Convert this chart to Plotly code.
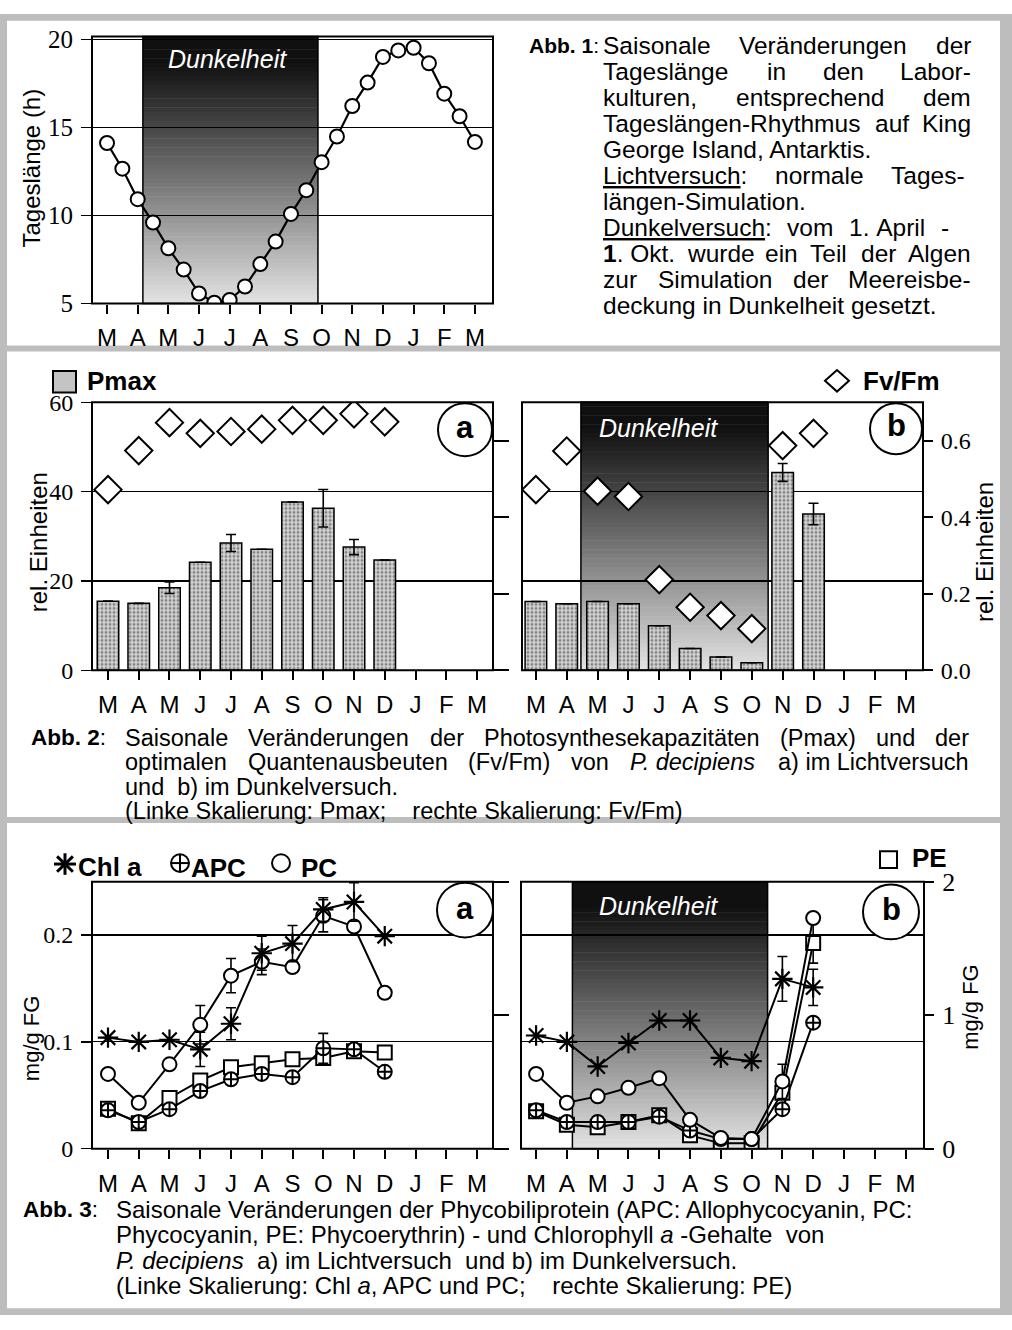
import re
import plotly.graph_objects as go

W, H = 1012, 1330
SANS = "Liberation Sans, Arial, sans-serif"
SERIF = "Liberation Serif, Times New Roman, serif"

# ---------------- data ----------------
months = ["M", "A", "M", "J", "J", "A", "S", "O", "N", "D", "J", "F", "M"]
month_pos = [0, 1, 2, 3, 4, 5, 6, 7, 8, 9, 10, 11, 12]

# Abb. 1 : day length (h), half-month steps
day_x = [0, 0.5, 1, 1.5, 2, 2.5, 3, 3.5, 4, 4.5, 5, 5.5, 6, 6.5, 7, 7.5, 8, 8.5, 9, 9.5, 10, 10.5, 11, 11.5, 12]
day_len = [14.12, 12.66, 10.93, 9.60, 8.14, 6.93, 5.57, 5.05, 5.20, 5.97, 7.24, 8.52, 10.09,
           11.44, 13.03, 14.49, 16.22, 17.55, 19.01, 19.38, 19.53, 18.65, 16.92, 15.64, 14.18]
dark_abb1 = [1.17, 6.88]

# Abb. 2 : Pmax (left) and Fv/Fm (right)
meas_x = [0, 1, 2, 3, 4, 5, 6, 7, 8, 9]
pmax_light = [15.5, 15.0, 18.5, 24.2, 28.5, 27.1, 37.7, 36.3, 27.6, 24.7]
pmax_light_err = [None, None, 1.3, None, 1.9, None, None, 4.2, 1.7, None]
fvfm_light = [0.472, 0.574, 0.647, 0.619, 0.624, 0.630, 0.653, 0.653, 0.670, 0.649]
pmax_dark = [15.4, 14.9, 15.4, 14.9, 10.0, 4.9, 3.0, 1.7, 44.3, 35.0]
pmax_dark_err = [None, None, None, None, None, None, None, None, 2.0, 2.4]
fvfm_dark = [0.472, 0.573, 0.468, 0.454, 0.237, 0.165, 0.143, 0.109, 0.587, 0.619]
dark_abb2 = [1.46, 7.53]

# Abb. 3 : pigments (mg/g FG); Chl a, APC, PC left scale, PE right scale
chl_light = [0.104, 0.100, 0.102, 0.093, 0.117, 0.183, 0.192, 0.224, 0.231, 0.199]
chl_light_err = [None, None, None, 0.016, 0.015, 0.016, 0.017, 0.011, 0.018, None]
apc_light = [0.036, 0.025, 0.037, 0.054, 0.065, 0.070, 0.067, 0.094, 0.093, 0.072]
apc_light_err = [None, None, None, None, None, None, None, 0.014, None, None]
pc_light = [0.070, 0.043, 0.079, 0.116, 0.162, 0.175, 0.170, 0.218, 0.208, 0.146]
pc_light_err = [None, None, None, 0.018, 0.016, 0.012, None, 0.015, None, None]
pe_light = [0.30, 0.19, 0.38, 0.51, 0.61, 0.64, 0.67, 0.68, 0.73, 0.72]

chl_dark = [0.106, 0.100, 0.077, 0.099, 0.120, 0.120, 0.085, 0.082, 0.159, 0.151]
chl_dark_err = [None, None, None, None, None, None, None, None, 0.021, 0.017]
apc_dark = [0.036, 0.025, 0.025, 0.025, 0.030, 0.017, 0.009, 0.009, 0.037, 0.118]
pc_dark = [0.070, 0.043, 0.049, 0.057, 0.066, 0.027, 0.010, 0.009, 0.063, 0.216]
pc_dark_err = [None, None, None, None, None, None, None, None, 0.016, None]
pe_dark = [0.28, 0.18, 0.16, 0.20, 0.25, 0.10, 0.04, 0.04, 0.42, 1.54]
pe_dark_err = [None, None, None, None, None, None, None, None, None, 0.15]
dark_abb3 = [1.18, 7.52]


# ---------------- helpers ----------------
def X(px):
    return px / W


def Y(py):
    return 1 - py / H


AW = {' ': 278, '\u00a0': 278, '!': 278, '(': 333, ')': 333, ',': 278, '-': 333, '.': 278,
      '/': 278, ':': 278, ';': 278,
      'A': 667, 'B': 667, 'C': 722, 'D': 722, 'E': 667, 'F': 611, 'G': 778, 'H': 722, 'I': 278,
      'J': 500, 'K': 667, 'L': 556, 'M': 833, 'N': 722, 'O': 778, 'P': 667, 'Q': 778, 'R': 722,
      'S': 667, 'T': 611, 'U': 722, 'V': 667, 'W': 944, 'X': 667, 'Y': 667, 'Z': 611,
      'a': 556, 'b': 556, 'c': 500, 'd': 556, 'e': 556, 'f': 278, 'g': 556, 'h': 556, 'i': 222,
      'j': 222, 'k': 500, 'l': 222, 'm': 833, 'n': 556, 'o': 556, 'p': 556, 'q': 556, 'r': 333,
      's': 500, 't': 278, 'u': 556, 'v': 500, 'w': 722, 'x': 500, 'y': 500, 'z': 500,
      'ä': 556, 'ö': 556, 'ü': 556}


def text_width(s, size):
    plain = re.sub(r'<[^>]+>', '', s)
    return sum(AW.get(c, 556) for c in plain) * size / 1000.0


annotations = []
shapes = []


def ann(x, y, text, size, anchor='left', color='black', family=SANS, angle=0):
    annotations.append(dict(x=X(x), y=Y(y), xref='paper', yref='paper', text=text,
                            showarrow=False, xanchor=anchor, yanchor='middle', borderpad=0,
                            textangle=angle, font=dict(family=family, size=size, color=color)))


def add_line(x0, y, text, size, right=None):
    if right is None:
        ann(x0, y, text, size)
        return
    words = text.split(' ')
    widths = [text_width(w, size) for w in words]
    gap = (right - x0 - sum(widths)) / (len(words) - 1)
    x = x0
    for w, wd in zip(words, widths):
        ann(x, y, w, size)
        x += wd + gap


def rect_px(x0, y0, x1, y1, fill, line_w=0, line_c='black', layer='above'):
    shapes.append(dict(type='rect', xref='paper', yref='paper', x0=X(x0), x1=X(x1),
                       y0=Y(y1), y1=Y(y0), fillcolor=fill, layer=layer,
                       line=dict(width=line_w, color=line_c)))


def line_px(x0, y0, x1, y1, w=2):
    shapes.append(dict(type='line', xref='paper', yref='paper', x0=X(x0), x1=X(x1),
                       y0=Y(y0), y1=Y(y1), line=dict(width=w, color='black')))


def circle_px(cx, cy, r, fill='white', w=2):
    shapes.append(dict(type='circle', xref='paper', yref='paper', x0=X(cx - r), x1=X(cx + r),
                       y0=Y(cy + r), y1=Y(cy - r), fillcolor=fill, layer='above',
                       line=dict(width=w, color='black')))


def gradient(xref, yref, x0, x1, n=60):
    for i in range(n):
        t0, t1 = i / n, (i + 1) / n
        t = (t0 + t1) / 2
        f = max(0.0, min(1.0, (t - 0.09) / 0.91))
        g = int(16 + 212 * f ** 1.05)
        shapes.append(dict(type='rect', xref=xref, yref=yref + ' domain', x0=x0, x1=x1,
                           y0=1 - t1, y1=1 - t0 + 0.002, fillcolor=f'rgb({g},{g},{g})',
                           line=dict(width=0), layer='below'))
    shapes.append(dict(type='rect', xref=xref, yref=yref + ' domain', x0=x0, x1=x1, y0=0, y1=1,
                       line=dict(width=1.5, color='black'), layer='below'))


def frame(xr, yr):
    shapes.append(dict(type='rect', xref=xr + ' domain', yref=yr + ' domain', x0=0, x1=1,
                       y0=0, y1=1, line=dict(width=2, color='black'), layer='above'))


# ---------------- traces ----------------
fig = go.Figure()

open_circle = dict(symbol='circle', size=14, color='white', line=dict(color='black', width=2))
bar_marker = dict(color='#c8c8c8', line=dict(color='black', width=1.5),
                  pattern=dict(shape='.', fgcolor='#333333', bgcolor='#d6d6d6', size=4, solidity=0.45))
diamond = dict(symbol='diamond', size=21, color='white', line=dict(color='black', width=2))
err_style = dict(type='data', color='black', thickness=1.6, width=5, visible=True)

# Abb. 1
fig.add_trace(go.Scatter(x=day_x, y=day_len, xaxis='x', yaxis='y', mode='lines+markers',
                         line=dict(color='black', width=2.2), marker=open_circle, showlegend=False))

# Abb. 2a / 2b
for xa, ya_l, ya_r, pm, pm_err, fv in [('x2', 'y2', 'y3', pmax_light, pmax_light_err, fvfm_light),
                                        ('x3', 'y4', 'y5', pmax_dark, pmax_dark_err, fvfm_dark)]:
    fig.add_trace(go.Bar(x=meas_x, y=pm, xaxis=xa, yaxis=ya_l, width=0.7, marker=bar_marker,
                         error_y=dict(array=pm_err, **err_style), showlegend=False))
    fig.add_trace(go.Scatter(x=meas_x, y=fv, xaxis=xa, yaxis=ya_r, mode='markers',
                             marker=diamond, showlegend=False))

# Abb. 3a / 3b
sq = dict(symbol='square', size=14, color='white', line=dict(color='black', width=2))
cc = dict(symbol='circle-cross', size=14, color='white', line=dict(color='black', width=2))
ast = dict(symbol='asterisk-open', size=17, color='black', line=dict(color='black', width=2.2))
ln = dict(color='black', width=2)
for xa, ya_pe, ya_l, pe, pe_err, apc, apc_err, pc, pc_err, chl, chl_err in [
        ('x4', 'y6', 'y7', pe_light, [None] * 10, apc_light, apc_light_err, pc_light, pc_light_err,
         chl_light, chl_light_err),
        ('x5', 'y8', 'y9', pe_dark, pe_dark_err, apc_dark, [None] * 10, pc_dark, pc_dark_err,
         chl_dark, chl_dark_err)]:
    fig.add_trace(go.Scatter(x=meas_x, y=pe, xaxis=xa, yaxis=ya_pe, mode='lines+markers', line=ln,
                             marker=sq, error_y=dict(array=pe_err, **err_style), showlegend=False))
    fig.add_trace(go.Scatter(x=meas_x, y=apc, xaxis=xa, yaxis=ya_l, mode='lines+markers', line=ln,
                             marker=cc, error_y=dict(array=apc_err, **err_style), showlegend=False))
    fig.add_trace(go.Scatter(x=meas_x, y=pc, xaxis=xa, yaxis=ya_l, mode='lines+markers', line=ln,
                             marker=open_circle, error_y=dict(array=pc_err, **err_style),
                             showlegend=False))
    fig.add_trace(go.Scatter(x=meas_x, y=chl, xaxis=xa, yaxis=ya_l, mode='lines+markers', line=ln,
                             marker=ast, error_y=dict(array=chl_err, **err_style), showlegend=False))


# ---------------- axes ----------------
def xax(x0, x1, rng, anchor):
    return dict(domain=[X(x0), X(x1)], range=rng, anchor=anchor, tickmode='array',
                tickvals=month_pos, ticktext=months, ticks='outside', ticklen=9, tickwidth=2,
                tickcolor='black', showgrid=False, zeroline=False, showline=False,
                ticklabelstandoff=4, tickfont=dict(family=SANS, size=24, color='black'),
                fixedrange=True)


def yax(**kw):
    d = dict(showgrid=False, gridcolor='black', gridwidth=1.2, zeroline=False, showline=False,
             ticks='outside', ticklen=10, tickwidth=1.5, tickcolor='black', tickmode='array',
             tickfont=dict(family=SERIF, size=24, color='black'), fixedrange=True,
             ticklabelstandoff=3)
    d.update(kw)
    return d


P1 = (92, 493, 23, 296)
P2A = (92, 493, 397, 671)
P2B = (522, 923, 397, 671)
P3A = (92, 493, 887, 1160)
P3B = (521, 924, 887, 1160)

layout_axes = dict(
    xaxis=xax(P1[0], P1[1], [-0.49, 12.59], 'y'),
    yaxis=yax(domain=[Y(P1[3]), Y(P1[2])], anchor='x', range=[5, 20.17], tickvals=[5, 10, 15, 20],
              showgrid=True, tickfont=dict(family=SERIF, size=25, color='black')),
    xaxis2=xax(P2A[0], P2A[1], [-0.52, 12.52], 'y2'),
    yaxis2=yax(domain=[Y(P2A[3]), Y(P2A[2])], anchor='x2', range=[0, 60], tickvals=[0, 20, 40, 60],
               showgrid=True),
    yaxis3=yax(overlaying='y2', side='right', anchor='x2', range=[0, 0.7],
               tickvals=[0, 0.2, 0.4, 0.6], showticklabels=False, ticklen=15, tickwidth=2),
    xaxis3=xax(P2B[0], P2B[1], [-0.45, 12.55], 'y4'),
    yaxis4=yax(domain=[Y(P2B[3]), Y(P2B[2])], anchor='x3', range=[0, 60], tickvals=[20, 40],
               showgrid=True, ticks='', showticklabels=False),
    yaxis5=yax(overlaying='y4', side='right', anchor='x3', range=[0, 0.7],
               tickvals=[0, 0.2, 0.4, 0.6], ticktext=['0.0', '0.2', '0.4', '0.6'], ticklen=9,
               tickwidth=2),
    xaxis4=xax(P3A[0], P3A[1], [-0.52, 12.52], 'y6'),
    yaxis6=yax(domain=[Y(P3A[3]), Y(P3A[2])], anchor='x4', side='right', range=[0, 2.0],
               tickvals=[0, 1, 2], showticklabels=False, ticklen=15, tickwidth=2),
    yaxis7=yax(overlaying='y6', side='left', anchor='x4', range=[0, 0.25], tickvals=[0, 0.1, 0.2],
               ticktext=['0', '0.1', '0.2'], showgrid=True),
    xaxis5=xax(P3B[0], P3B[1], [-0.49, 12.6], 'y8'),
    yaxis8=yax(domain=[Y(P3B[3]), Y(P3B[2])], anchor='x5', side='right', range=[0, 2.0],
               tickvals=[0, 1, 2], ticktext=['0', '1', '2'], ticklen=9, tickwidth=2,
               tickfont=dict(family=SERIF, size=26, color='black')),
    yaxis9=yax(overlaying='y8', side='left', anchor='x5', range=[0, 0.25], tickvals=[0.1, 0.2],
               showgrid=True, ticks='', showticklabels=False),
)

# ---------------- shapes ----------------
BAND = '#bdbdbd'
rect_px(0, 0, W, 7, BAND, layer='below')
rect_px(0, H - 7, W, H, BAND, layer='below')
rect_px(0, 0, 7, H, BAND, layer='below')
rect_px(1000, 0, W, H, BAND, layer='below')
rect_px(0, 339, W, 345, BAND, layer='below')
rect_px(0, 821, W, 827, BAND, layer='below')

gradient('x', 'y', dark_abb1[0], dark_abb1[1])
gradient('x3', 'y4', dark_abb2[0], dark_abb2[1])
gradient('x5', 'y8', dark_abb3[0], dark_abb3[1])

frame('x', 'y')
frame('x2', 'y2')
frame('x3', 'y4')
frame('x4', 'y6')
frame('x5', 'y8')

# panel letters
circle_px(465, 425, 27)
circle_px(896, 424, 26)
circle_px(465, 916, 28)
circle_px(891, 918, 28)
ann(465, 423, '<b>a</b>', 31, anchor='center')
ann(896, 421, '<b>b</b>', 31, anchor='center')
ann(465, 914, '<b>a</b>', 31, anchor='center')
ann(891, 915, '<b>b</b>', 31, anchor='center')

# legend glyphs Abb. 2
rect_px(53, 365, 76, 387, '#c4c4c4', line_w=2)
ann(86, 375, '<b>Pmax</b>', 26)
shapes.append(dict(type='path', xref='paper', yref='paper',
                   path=f"M {X(825)} {Y(375)} L {X(837)} {Y(364)} L {X(849)} {Y(375)} L {X(837)} {Y(386)} Z",
                   fillcolor='white', line=dict(width=2, color='black'), layer='above'))
ann(862, 375, '<b>Fv/Fm</b>', 26)

# legend glyphs Abb. 3
cx, cy, r = 65, 869, 11
line_px(cx, cy - r, cx, cy + r, 3)
line_px(cx - r, cy, cx + r, cy, 3)
line_px(cx - 0.72 * r, cy - 0.72 * r, cx + 0.72 * r, cy + 0.72 * r, 3)
line_px(cx - 0.72 * r, cy + 0.72 * r, cx + 0.72 * r, cy - 0.72 * r, 3)
ann(77, 872, '<b>Chl a</b>', 26)
circle_px(180, 868, 9, w=2)
line_px(171, 868, 189, 868, 2)
line_px(180, 859, 180, 877, 2)
ann(190, 873, '<b>APC</b>', 26)
circle_px(281, 868, 9, w=2)
ann(300, 873, '<b>PC</b>', 26)
rect_px(880, 856, 897, 873, 'white', line_w=2)
ann(911, 863, '<b>PE</b>', 26)

# Dunkelheit labels
ann(227, 46, '<i>Dunkelheit</i>', 25, anchor='center', color='white')
ann(658, 423, '<i>Dunkelheit</i>', 25, anchor='center', color='white')
ann(658, 912, '<i>Dunkelheit</i>', 25, anchor='center', color='white')

# axis titles
ann(32, 158, 'Tageslänge (h)', 24, anchor='center', angle=-90)
ann(38, 540, 'rel. Einheiten', 24, anchor='center', angle=-90)
ann(984, 550, 'rel. Einheiten', 24, anchor='center', angle=-90)
ann(31, 1047, 'mg/g FG', 22, anchor='center', angle=-90)
ann(971, 1015, 'mg/g FG', 22, anchor='center', angle=-90)

# ---------------- caption texts ----------------
NB = '\u00a0'
T1 = 24.5
ann(528, 32.5, '<b>Abb. 1</b>:', 21)
abb1_lines = [
    (32.5, 'Saisonale Veränderungen der', 970),
    (59, 'Tageslänge in den Labor-', 970),
    (85.5, 'kulturen, entsprechend dem', 970),
    (112, 'Tageslängen-Rhythmus auf King', 970),
    (138.5, 'George Island, Antarktis.', None),
    (165, '<u>Lichtversuch</u>: normale Tages-', 966),
    (192, 'längen-Simulation.', None),
    (218.5, f'<u>Dunkelversuch</u>: vom 1.{NB}April -', 948),
    (245, f'<b>1</b>.{NB}Okt. wurde ein Teil der Algen', 970),
    (271.5, 'zur Simulation der Meereisbe-', 970),
    (298, 'deckung in Dunkelheit gesetzt.', None),
]
for yy, txt, right in abb1_lines:
    add_line(602, yy, txt, T1, right)

TC2 = 23.5
ann(30, 740, '<b>Abb. 2</b>:', 22.5)
cap2 = [
    (740, 'Saisonale Veränderungen der Photosynthesekapazitäten (Pmax) und der', 968),
    (765, f'optimalen Quantenausbeuten (Fv/Fm) von <i>P.{NB}decipiens</i> a){NB}im{NB}Lichtversuch', 968),
    (790, f'und{NB} b) im Dunkelversuch.', None),
    (815, f'(Linke Skalierung: Pmax;{NB}{NB}{NB}{NB}rechte Skalierung: Fv/Fm)', None),
]
for yy, txt, right in cap2:
    add_line(124, yy, txt, TC2, right)

TC3 = 24
ann(22, 1222, '<b>Abb. 3</b>:', 22.5)
cap3 = [
    (1222, 'Saisonale Veränderungen der Phycobiliprotein (APC: Allophycocyanin, PC:', None),
    (1248, f'Phycocyanin, PE: Phycoerythrin) - und Chlorophyll <i>a</i> -Gehalte{NB} von', None),
    (1274, f'<i>P. decipiens</i>{NB} a) im Lichtversuch{NB} und b) im Dunkelversuch.', None),
    (1300, f'(Linke Skalierung: Chl <i>a</i>, APC und PC;{NB}{NB}{NB}{NB}rechte Skalierung: PE)', None),
]
for yy, txt, right in cap3:
    add_line(115, yy, txt, TC3, right)

fig.update_layout(
    width=W, height=H, autosize=False,
    margin=dict(l=0, r=0, t=0, b=0, pad=0),
    paper_bgcolor='white', plot_bgcolor='white',
    showlegend=False, bargap=0.3,
    shapes=shapes, annotations=annotations,
    **layout_axes,
)

fig.write_html(
    "out.html", config=dict(displayModeBar=False, staticPlot=True),
    post_script=("document.documentElement.style.margin='0';"
                 "document.body.style.margin='0';document.body.style.padding='0';"
                 "document.body.style.overflow='hidden';"
                 "document.documentElement.style.overflow='hidden';"
                 "var gd=document.getElementById('{plot_id}');"
                 "gd.style.position='fixed';gd.style.left='0px';gd.style.top='0px';")
)
